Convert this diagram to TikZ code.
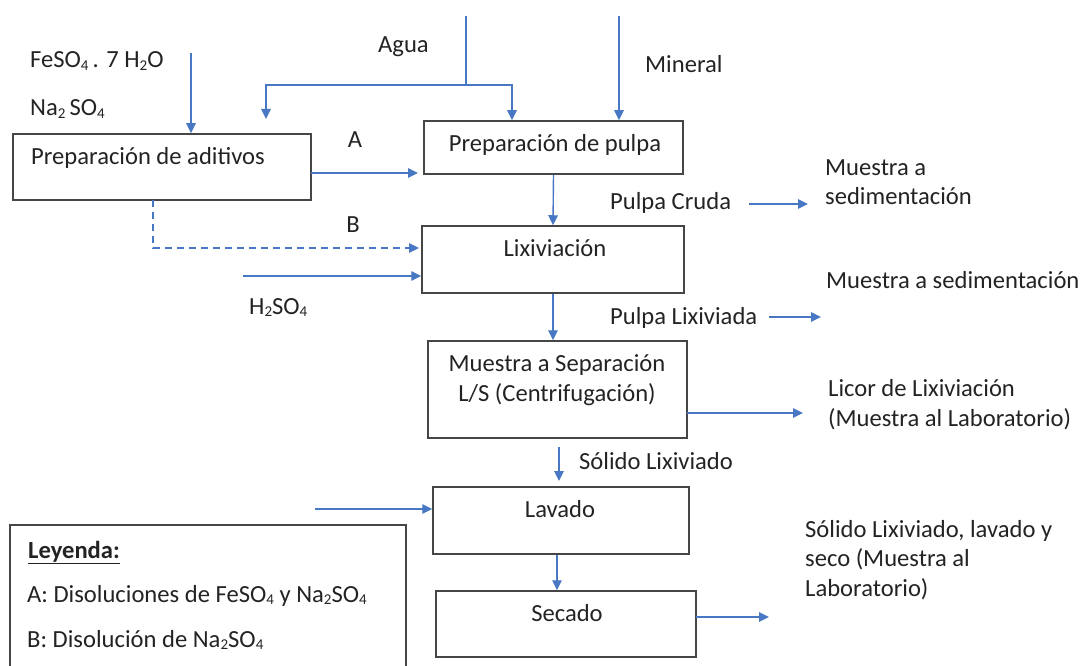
\documentclass[tikz,border=0pt]{standalone}
\usepackage{fontspec}
\setmainfont{Carlito}
\usetikzlibrary{arrows.meta}
\definecolor{flow}{RGB}{72,120,196}
\definecolor{boxline}{RGB}{70,70,70}
\definecolor{txt}{RGB}{35,35,35}
\newcommand{\chemsub}[1]{\raisebox{-0.12em}{\fontsize{15}{15}\selectfont #1}}
\begin{document}
\begin{tikzpicture}[x=1pt,y=-1pt,
  every node/.style={font=\fontsize{24.6}{29.5}\selectfont, text=txt, inner sep=0pt},
  procbox/.style={draw=boxline, line width=1.5pt, rectangle, minimum width=#1},
  lbl/.style={anchor=base west, align=left},
  ctr/.style={anchor=base},
  flowarrow/.style={draw=flow, line width=1.4pt, -{Triangle[length=10pt,width=9.5pt]}},
  flowline/.style={draw=flow, line width=1.4pt}
]
\useasboundingbox (0,0) rectangle (1080,666);
% boxes
\node[procbox=298, minimum height=66] (adit) at (162,167) {};
\node[procbox=259, minimum height=53] (pulpa) at (553.5,147.5) {};
\node[procbox=262, minimum height=67] (lix) at (553,259.5) {};
\node[procbox=259, minimum height=97] (sep) at (557.5,389.5) {};
\node[procbox=256, minimum height=67] (lav) at (561,520.5) {};
\node[procbox=260, minimum height=66] (sec) at (566,624) {};
% box texts
\node[ctr] (taditivos) at (148,165) {Preparación de aditivos};
\node[ctr] (tpulpa) at (555,152) {Preparación de pulpa};
\node[ctr] (tlix) at (555,257) {Lixiviación};
\node[ctr, align=center] (tsep) at (557,401) {Muestra a Separación\\L/S (Centrifugación)};
\node[ctr] (tlav) at (560,517) {Lavado};
\node[ctr] (tsec) at (567,621) {Secado};
% free labels
\node[lbl] (feso) at (30,68) {FeSO\chemsub{4}\,. 7 H\chemsub{2}O};
\node[lbl] (naso) at (30,116) {Na\chemsub{2}\,SO\chemsub{4}};
\node[lbl] (agua) at (378,53) {Agua};
\node[lbl] (mineral) at (645,73) {Mineral};
\node[ctr] (la) at (355,148) {A};
\node[ctr] (lb) at (353,233) {B};
\node[lbl] (h2so4) at (249,314) {H\chemsub{2}SO\chemsub{4}};
\node[lbl] (pcruda) at (610,210) {Pulpa Cruda};
\node[lbl] (ms1) at (825,205) {Muestra a\\sedimentación};
\node[lbl] (plix) at (610,324) {Pulpa Lixiviada};
\node[lbl] (ms2) at (826,288) {Muestra a sedimentación};
\node[lbl] (licor) at (828,426) {Licor de Lixiviación\\(Muestra al Laboratorio)};
\node[lbl] (solido) at (579,469) {Sólido Lixiviado};
\node[lbl] (final) at (805,596) {Sólido Lixiviado, lavado y\\seco (Muestra al\\Laboratorio)};
% legend
\draw[draw=boxline, line width=1.5pt] (10,680) -- (10,525) -- (406,525) -- (406,680);
\node[lbl] (ley) at (28,558) {\underline{\textbf{Leyenda:}}};
\node[lbl] (leya) at (27,602) {A: Disoluciones de FeSO\chemsub{4} y Na\chemsub{2}SO\chemsub{4}};
\node[lbl] (leyb) at (27,647) {B: Disolución de Na\chemsub{2}SO\chemsub{4}};
% coordinates
\coordinate (feS) at (191,53);
\coordinate (aguaTop) at (466,16);
\coordinate (aguaJ) at (466,85);
\coordinate (aguaL) at (266,85);
\coordinate (aguaLend) at (266,119);
\coordinate (aguaR) at (512,85);
\coordinate (minTop) at (619,16);
\coordinate (aS) at (311,173);
\coordinate (aE) at (418,173);
\coordinate (bS) at (153,200);
\coordinate (bC) at (153,248);
\coordinate (bE) at (419,248);
\coordinate (hS) at (243,276);
\coordinate (pcS) at (749,204);
\coordinate (pcE) at (808,204);
\coordinate (plS) at (769,317);
\coordinate (plE) at (821,317);
\coordinate (sepR) at (687,413);
\coordinate (sepE) at (803,413);
\coordinate (solS) at (559,447);
\coordinate (solE) at (559,481);
\coordinate (lavS) at (315,509);
\coordinate (secR) at (696,617);
\coordinate (secE) at (769,617);
% connectors
\draw[flowarrow] (feS) -- (feS |- adit.north);
\draw[flowline] (aguaTop) -- (aguaJ);
\draw[flowarrow] (aguaJ) -- (aguaL) -- (aguaLend);
\draw[flowarrow] (aguaJ) -- (aguaR) -- (aguaR |- pulpa.north);
\draw[flowarrow] (minTop) -- (minTop |- pulpa.north);
\draw[flowarrow] (aS) -- (aE);
\draw[flowarrow, dash pattern=on 7pt off 5pt] (bS) -- (bC) -- (bE);
\draw[flowarrow] (hS) -- (hS -| lix.west);
\draw[flowarrow] (pulpa.south) -- (lix.north);
\draw[flowarrow] (pcS) -- (pcE);
\draw[flowarrow] (lix.south) -- (lix.south |- sep.north);
\draw[flowarrow] (plS) -- (plE);
\draw[flowarrow] (sepR) -- (sepE);
\draw[flowarrow] (solS) -- (solE);
\draw[flowarrow] (lavS) -- (lavS -| lav.west);
\draw[flowarrow] (lav.south -| 557,0) -- (sec.north -| 557,0);
\draw[flowarrow] (secR) -- (secE);
\end{tikzpicture}
\end{document}
